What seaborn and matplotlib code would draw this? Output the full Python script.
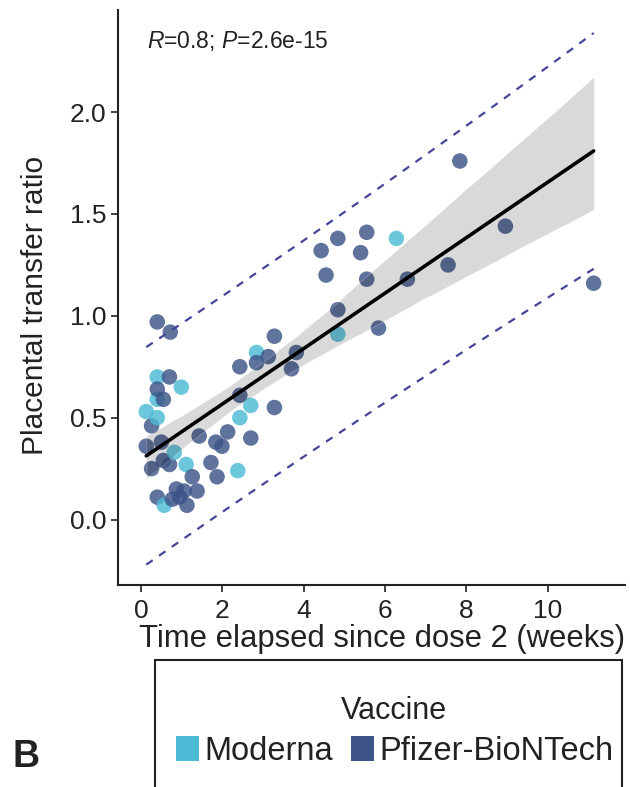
import numpy as np
import pandas as pd
import matplotlib.pyplot as plt
import seaborn as sns
from matplotlib.patches import Patch, Rectangle

# values
moderna_weeks = [0.40, 0.99, 0.40, 0.13, 0.40, 0.82, 1.11, 0.57, 2.43, 2.70, 2.38, 2.84, 4.84, 6.28]
moderna_ratio = [0.70, 0.65, 0.59, 0.53, 0.50, 0.33, 0.27, 0.07, 0.50, 0.56, 0.24, 0.82, 0.91, 1.38]

pfizer_weeks = [0.40, 0.72, 0.70, 0.40, 0.55, 0.26, 0.13, 0.50, 1.43, 0.26, 0.55, 0.70,
                1.72, 1.84, 1.99, 2.13, 2.70, 1.87, 1.26, 0.87, 0.40, 1.06, 1.38, 1.13,
                0.77, 0.95, 2.43, 2.84, 3.13, 3.28, 3.70, 3.82, 2.43, 3.28, 4.43, 4.84,
                5.55, 5.40, 4.55, 5.55, 6.55, 4.84, 5.84, 7.84, 8.96, 7.55, 11.13]
pfizer_ratio = [0.97, 0.92, 0.70, 0.64, 0.59, 0.46, 0.36, 0.38, 0.41, 0.25, 0.29, 0.27,
                0.28, 0.38, 0.36, 0.43, 0.40, 0.21, 0.21, 0.15, 0.11, 0.14, 0.14, 0.07,
                0.10, 0.11, 0.75, 0.77, 0.80, 0.90, 0.74, 0.82, 0.61, 0.55, 1.32, 1.38,
                1.41, 1.31, 1.20, 1.18, 1.18, 1.03, 0.94, 1.76, 1.44, 1.25, 1.16]

vaccines = ["Moderna", "Pfizer-BioNTech"]
colors = {"Moderna": "#4DBBD5", "Pfizer-BioNTech": "#3C5488"}

df = pd.DataFrame({
    "weeks": moderna_weeks + pfizer_weeks,
    "ratio": moderna_ratio + pfizer_ratio,
    "vaccine": ["Moderna"] * len(moderna_weeks) + ["Pfizer-BioNTech"] * len(pfizer_weeks),
})
# mix draw order a bit like the original
df = df.sort_values("weeks", kind="stable").reset_index(drop=True)

sns.set_style("ticks")
plt.rcParams['font.family'] = ['Liberation Sans', 'DejaVu Sans']
plt.rcParams['mathtext.fontset'] = 'custom'
plt.rcParams['mathtext.it'] = 'Liberation Sans:italic'
plt.rcParams['mathtext.rm'] = 'Liberation Sans'
text_col = "#222222"

fig = plt.figure(figsize=(6.3, 7.87), dpi=100)
ax = fig.add_axes([0.187, 0.257, 0.805, 0.730])

sns.scatterplot(data=df, x="weeks", y="ratio", hue="vaccine", palette=colors,
                s=125, alpha=0.82, linewidth=0, legend=False, ax=ax)

sns.regplot(data=df, x="weeks", y="ratio", scatter=False, color="black", ci=95,
            seed=1, line_kws=dict(lw=2.6), ax=ax)

# 95% prediction interval as dashed lines
x = df["weeks"].to_numpy()
y = df["ratio"].to_numpy()
n = len(x)
b, a = np.polyfit(x, y, 1)
resid = y - (a + b * x)
s = np.sqrt(np.sum(resid ** 2) / (n - 2))
sxx = np.sum((x - x.mean()) ** 2)
xs = np.linspace(x.min(), x.max(), 100)
half = 2.0 * s * np.sqrt(1 + 1 / n + (xs - x.mean()) ** 2 / sxx)
fit = a + b * xs
for sign in (1, -1):
    ax.plot(xs, fit + sign * half, ls=(0, (3.5, 3.5)), color="#45459a", lw=1.6)

ax.set_xlim(-0.57, 11.9)
ax.set_ylim(-0.32, 2.5)
ax.set_xticks([0, 2, 4, 6, 8, 10])
ax.set_yticks([0.0, 0.5, 1.0, 1.5, 2.0])
ax.set_yticklabels(["0.0", "0.5", "1.0", "1.5", "2.0"])
ax.tick_params(labelsize=19, colors=text_col, length=5, width=1.2, pad=3)
ax.tick_params(axis="x", pad=5)
for side in ("left", "bottom"):
    ax.spines[side].set_linewidth(1.5)
    ax.spines[side].set_color(text_col)
sns.despine(ax=ax)

ax.set_xlabel("Time elapsed since dose 2 (weeks)", fontsize=22.3, color=text_col)
ax.xaxis.set_label_coords(0.521, -0.068)
ax.set_ylabel("Placental transfer ratio", fontsize=21.5, color=text_col)
ax.yaxis.set_label_coords(-0.136, 0.487)

ax.text(0.16, 2.35, r"$\mathit{R}$=0.8; $\mathit{P}$=2.6e-15", fontsize=16.5,
        color=text_col, va="center", ha="left")

handles = [Patch(facecolor=colors[v], edgecolor="none") for v in vaccines]
leg = fig.legend(handles, vaccines, title="Vaccine", loc="center",
                 bbox_to_anchor=(0.626, 0.071), ncol=2, frameon=False, fontsize=23.5,
                 title_fontsize=22, handlelength=0.72, handleheight=0.8,
                 handletextpad=0.15, columnspacing=0.55, labelspacing=0.3)
for t in leg.get_texts():
    t.set_color(text_col)
leg.get_title().set_color(text_col)

fig.add_artist(Rectangle((155 / 630, -0.02), (622 - 155) / 630, 0.02 + 1 - 660 / 787,
                         transform=fig.transFigure, fill=False, lw=1.5, ec=text_col))

fig.text(12 / 630, 1 - 757 / 787, "B", fontsize=27, fontweight="bold",
         color=text_col, va="center", ha="left")

fig.savefig("out.png", dpi=100)
